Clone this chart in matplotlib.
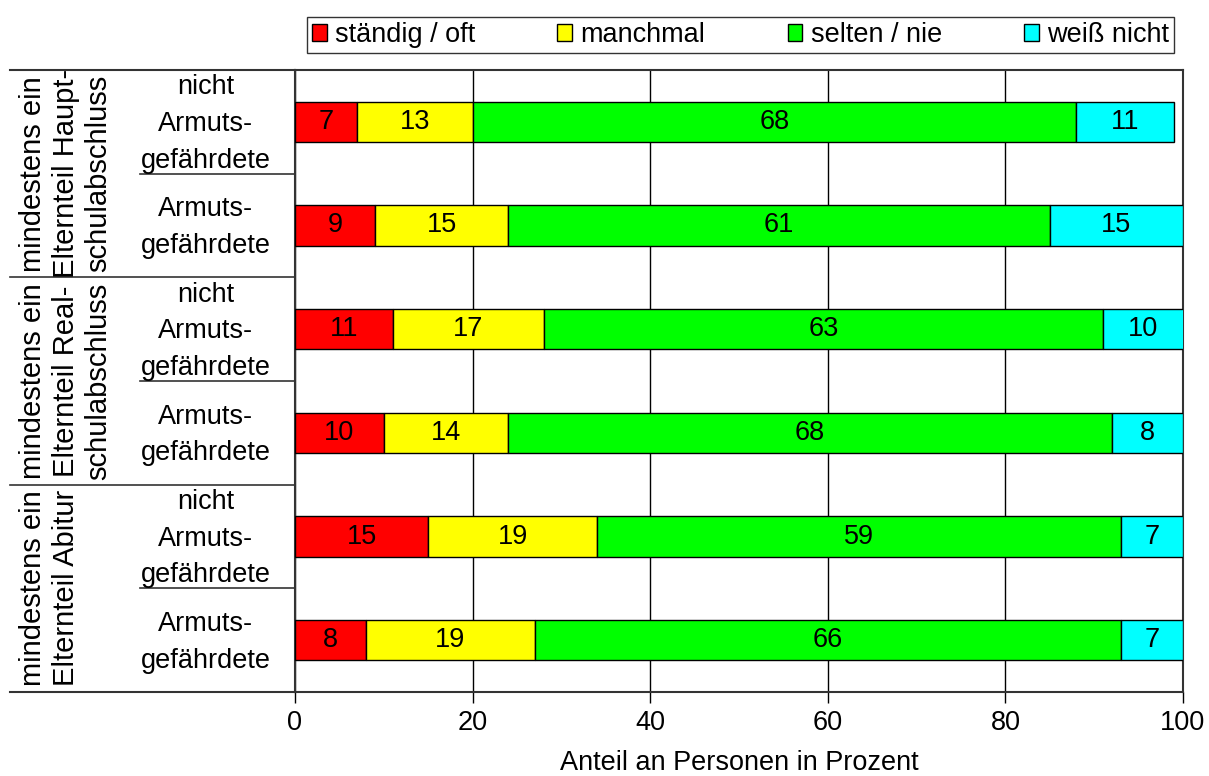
import matplotlib
matplotlib.use("Agg")
import matplotlib.pyplot as plt
import matplotlib.transforms as mtransforms
import numpy as np

plt.rcParams.update({"font.family": ["Liberation Sans", "DejaVu Sans"],
                     "font.size": 19})

CATS = ["ständig / oft", "manchmal", "selten / nie", "weiß nicht"]
COLORS = ["#ff0000", "#ffff00", "#00ff00", "#00ffff"]
ROW_LABELS = ["nicht\nArmuts-\ngefährdete", "Armuts-\ngefährdete"] * 3
GROUP_LABELS = ["mindestens ein\nElternteil Haupt-\nschulabschluss",
                "mindestens ein\nElternteil Real-\nschulabschluss",
                "mindestens ein\nElternteil Abitur"]
# rows top to bottom, one list per answer category
oft = [7, 9, 11, 10, 15, 8]
manchmal = [13, 15, 17, 14, 19, 19]
selten = [68, 61, 63, 68, 59, 66]
weiss = [11, 15, 10, 8, 7, 7]

W, H = 1209, 776
fig = plt.figure(figsize=(W / 100, H / 100), dpi=100)
x0, x1, ytop, ybot = 295, 1183, 70, 692
ax = fig.add_axes([x0 / W, 1 - ybot / H, (x1 - x0) / W, (ybot - ytop) / H])

y = np.arange(len(oft)) + 0.5
left = np.zeros(len(oft))
for vals, col, name in zip([oft, manchmal, selten, weiss], COLORS, CATS):
    vals = np.array(vals, dtype=float)
    ax.barh(y, vals, left=left, height=0.39, color=col,
            edgecolor="black", linewidth=1.0, label=name, zorder=3)
    for yi, l, v in zip(y, left, vals):
        # keep the label inside the visible part of a clipped segment
        cx = (l + min(l + v, 100)) / 2
        ax.text(cx, yi, f"{int(v)}", ha="center", va="center",
                fontsize=19.5, zorder=4)
    left += vals

ax.set_xlim(0, 100)
ax.set_ylim(6, 0)
ax.set_xticks([0, 20, 40, 60, 80, 100])
ax.set_yticks([])
ax.grid(axis="x", color="black", linewidth=1.0, zorder=0)
ax.tick_params(axis="x", direction="out", length=8, width=1.0,
               labelsize=19.5, pad=5)
for s in ax.spines.values():
    s.set_color("#333333")
    s.set_linewidth(1.5)
ax.set_xlabel("Anteil an Personen in Prozent", fontsize=19.5, labelpad=10)

# table lines and labels to the left of the bars
tr = mtransforms.blended_transform_factory(ax.transAxes, ax.transData)
ax_x = lambda px: (px - x0) / (x1 - x0)
for yy in [0, 6]:
    ax.plot([ax_x(10), 0], [yy, yy], color="#333333", lw=1.5,
            transform=tr, clip_on=False)
for yy in [2, 4]:
    ax.plot([ax_x(10), 0], [yy, yy], color="#333333", lw=1.2,
            transform=tr, clip_on=False)
for yy in [1, 3, 5]:
    ax.plot([ax_x(140), 0], [yy, yy], color="#333333", lw=1.2,
            transform=tr, clip_on=False)

for yi, lab in zip(y, ROW_LABELS):
    ax.text(ax_x(206), yi + 0.02, lab, ha="center", va="center",
            fontsize=19.5, linespacing=1.53, transform=tr)
for gi, lab in enumerate(GROUP_LABELS):
    ax.text(ax_x(19), 2 * gi + 1, lab, ha="left", va="center", rotation=90,
            multialignment="center", fontsize=21, linespacing=1.22,
            transform=tr)

fig.legend(loc="center", ncol=4, mode="expand",
           bbox_to_anchor=(293 / W, 1 - 53 / H, (1188 - 293) / W, 36 / H),
           fancybox=False, edgecolor="#333333", framealpha=1,
           handlelength=0.55, handleheight=0.55, handletextpad=0.3,
           borderpad=0.2, fontsize=19.5)

fig.savefig("out.png", dpi=100)
